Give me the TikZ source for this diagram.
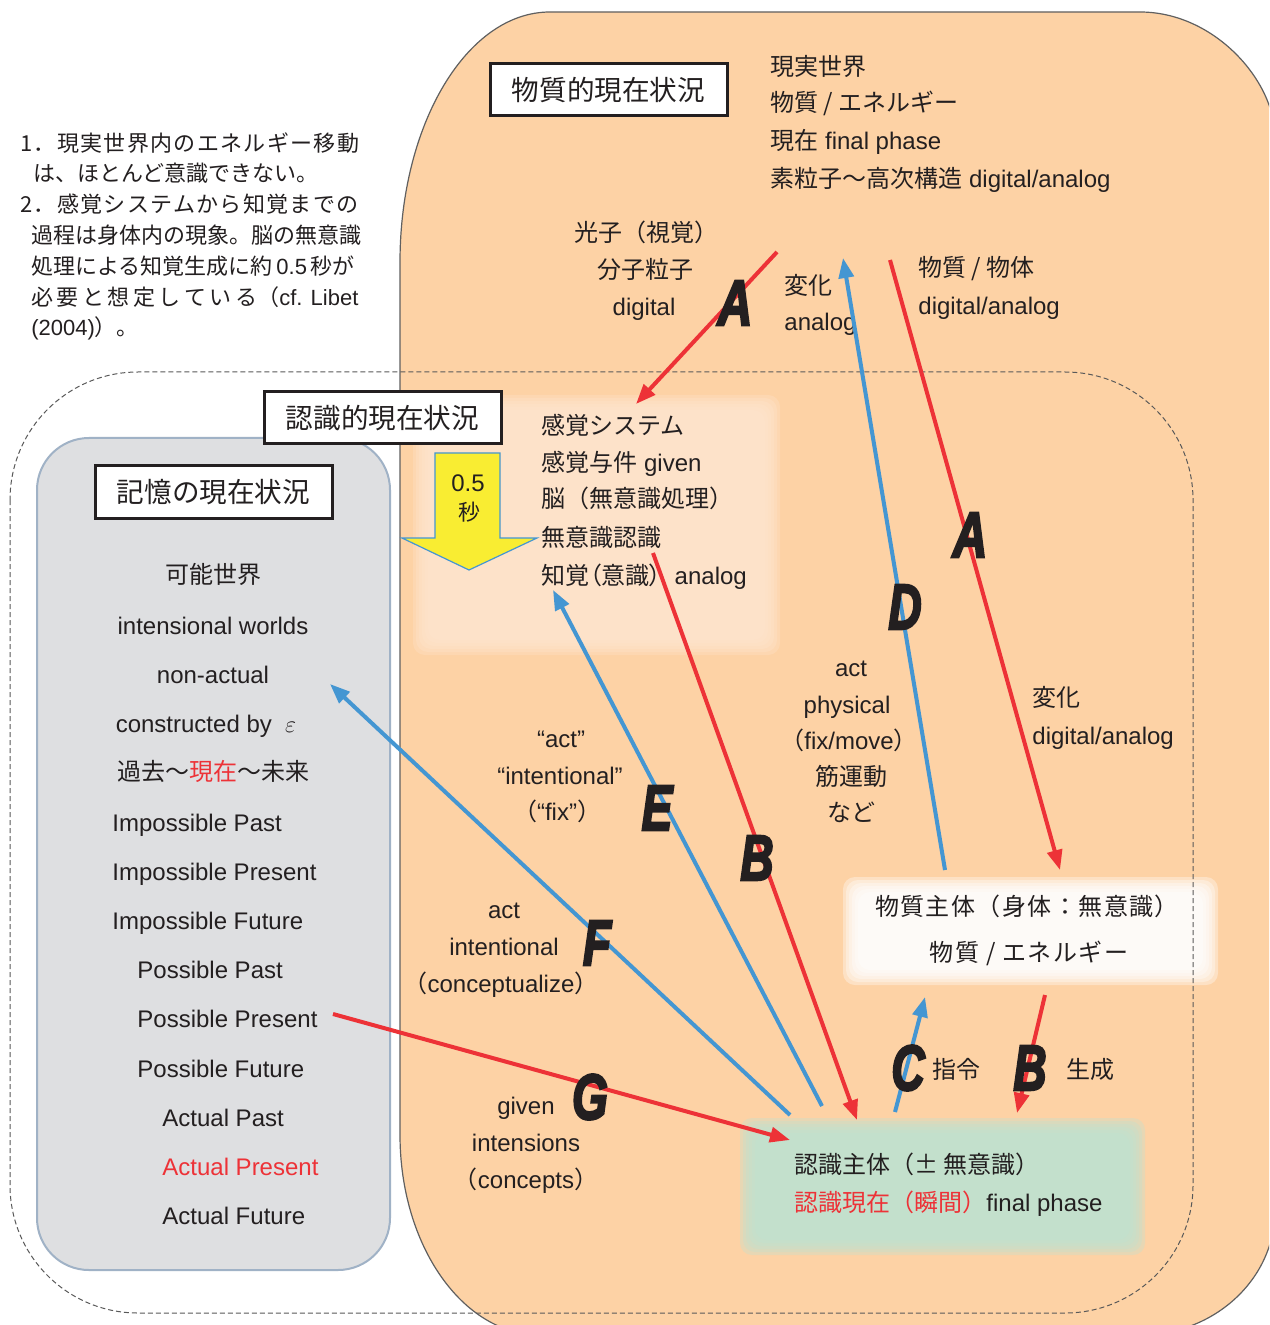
\documentclass[tikz,border=0pt]{standalone}
\usepackage{fontspec}
\usepackage{graphicx}
\setmainfont{Liberation Sans}
\newfontfamily\jp{Noto Sans CJK JP}
\newfontfamily\jpp[RawFeature=+palt]{Noto Sans CJK JP}
\newfontfamily\jpls[LetterSpace=6]{Noto Sans CJK JP}
\newfontfamily\jpnote[LetterSpace=6]{Noto Sans CJK JP}
\newfontfamily\heavy[FakeBold=4]{Liberation Sans Bold Italic}
\newcommand\JP[1]{{\jp #1}}
\usetikzlibrary{arrows.meta}
\definecolor{orangebg}{RGB}{253,210,165}
\definecolor{peachlt}{RGB}{253,229,207}
\definecolor{greenbg}{RGB}{192,226,208}
\definecolor{greybg}{RGB}{222,223,225}
\definecolor{greyedge}{RGB}{160,178,198}
\definecolor{rd}{RGB}{237,50,55}
\definecolor{bl}{RGB}{68,150,210}
\definecolor{ink}{RGB}{35,31,32}
\definecolor{yel}{RGB}{249,237,50}
\begin{document}
\begin{tikzpicture}[x=0.5pt,y=-0.5pt,
  txt/.style={font=\fontsize{12}{14}\selectfont, text=ink, inner sep=0pt, text height=10pt, text depth=2pt},
  lt/.style={txt, anchor=west},
  note/.style={font=\fontsize{11}{13}\selectfont, text=ink, inner sep=0pt, anchor=west, text height=9pt, text depth=2pt},
  title/.style={draw=ink, line width=1.5pt, fill=white, minimum width=118.5pt, minimum height=26pt, inner sep=0pt, font=\fontsize{13.8}{15}\jp\selectfont, text=ink},
  big/.style={font=\fontsize{32}{32}\heavy\selectfont, text=ink, inner sep=0pt},
  arr/.style={line width=2pt, -{Triangle[length=10pt,width=7.5pt]}},
  redarr/.style={arr, draw=rd},
  bluearr/.style={arr, draw=bl}]
\useasboundingbox (0,0) rectangle (1269,1325);
\clip (0,0) rectangle (1269,1325);
\fill[white] (0,0) rectangle (1269,1325);
% physical present situation (orange area)
\path[fill=orangebg, draw=gray!75!black, line width=0.6pt]
  (400,262) .. controls (400,124) and (467,12) .. (550,12)
  -- (1140,12) .. controls (1214.5,12) and (1275,81) .. (1275,137)
  -- (1275,1210) .. controls (1275,1279) and (1214.5,1335) .. (1140,1335)
  -- (540,1335) .. controls (462.7,1335) and (400,1245.4) .. (400,1135) -- cycle;
% soft regions
\foreach \k in {0,3,...,15} \fill[peachlt, fill opacity=0.3, rounded corners=6pt] (413+\k,395+\k) rectangle (780-\k,655-\k);
\foreach \k in {0,3,...,15} \fill[white, fill opacity=0.35, rounded corners=6pt] (843+\k,877+\k) rectangle (1218-\k,985-\k);
\foreach \k in {0,3,...,15} \fill[greenbg, fill opacity=0.35, rounded corners=6pt] (740+\k,1118+\k) rectangle (1145-\k,1255-\k);
% memory box
\draw[fill=greybg, draw=greyedge, line width=1pt, rounded corners=26pt] (37,438) rectangle (390,1270);
% cognitive present (dashed)
\draw[dash pattern=on 2.5pt off 1.5pt, draw=gray!70!black, line width=0.5pt, rounded corners=64pt] (10,372) rectangle (1193,1313);
% titles
\node[title] (tPhys) at (608.5,90) {物質的現在状況};
\node[title] (tCog) at (382.5,418) {認識的現在状況};
\node[title] (tMem) at (213.5,492) {記憶の現在状況};
% yellow arrow
\draw[fill=yel, draw=bl, line width=0.6pt] (435,453) -- (500,453) -- (500,538) -- (537,538) -- (469,570) -- (402,538) -- (435,538) -- cycle;
\node[txt, font=\fontsize{12}{13}\selectfont] (y1) at (468,484) {0.5};
\node[txt, font=\fontsize{11}{13}\jp\selectfont] (y2) at (469,512) {秒};
% notes
\node[note] (n1) at (20,145) {{\jpnote 1．現実世界内のエネルギー移動}};
\node[note] (n2) at (33,175) {\JP{は、ほとんど意識できない。}};
\node[note] (n3) at (20,206) {{\jpnote 2．感覚システムから知覚までの}};
\node[note] (n4) at (31,237) {\JP{過程は身体内の現象。脳の無意識}};
\node[note] (n5) at (31,268) {\JP{処理による知覚生成に約}\,0.5\,\JP{秒が}};
\node[note] (n6) at (31,299) {\makebox[163.5pt][s]{\JP{必}\hfill\JP{要}\hfill\JP{と}\hfill\JP{想}\hfill\JP{定}\hfill\JP{し}\hfill\JP{て}\hfill\JP{い}\hfill\JP{る（}cf. Libet}};
\node[note] (n7) at (31,329) {(2004)\JP{）。}};
% top right list
\node[lt] (p1) at (770,68) {\JP{現実世界}};
\node[lt] (p2) at (770,104) {\JP{物質 / エネルギー}};
\node[lt] (p3) at (770,142) {\JP{現在} final phase};
\node[lt] (p4) at (770,180) {\JP{素粒子～高次構造} digital/analog};
% upper labels
\node[txt] (q1) at (646,234) {\JP{光子（視覚）}};
\node[txt] (q2) at (645,271) {\JP{分子粒子}};
\node[txt] (q3) at (644,308) {digital};
\node[lt] (q4) at (784,287) {\JP{変化}};
\node[lt] (q5) at (784,323) {analog};
\node[lt] (q6) at (918,269) {\JP{物質 / 物体}};
\node[lt] (q7) at (918,307) {digital/analog};
% sensory list
\node[lt] (s1) at (541,427) {\JP{感覚システム}};
\node[lt] (s2) at (541,464) {\JP{感覚与件} given};
\node[lt] (s3) at (541,500) {\JP{脳（無意識処理）}};
\node[lt] (s4) at (541,538) {\JP{無意識認識}};
\node[lt] (s5) at (541,576) {{\jpp 知覚（意識）}\ \ analog};
% memory list
\node[txt] (m1) at (213,575) {\JP{可能世界}};
\node[txt] (m2) at (213,626) {intensional worlds};
\node[txt] (m3) at (213,675) {non-actual};
\node[txt] (m4) at (206,724) {constructed by\ \ $\varepsilon$};
\node[txt] (m5) at (213,772) {\JP{過去～\textcolor{rd}{現在}～未来}};
\node[lt] (m6) at (112,823) {Impossible Past};
\node[lt] (m7) at (112,872) {Impossible Present};
\node[lt] (m8) at (112,921) {Impossible Future};
\node[lt] (m9) at (137,970) {Possible Past};
\node[lt] (m10) at (137,1019) {Possible Present};
\node[lt] (m11) at (137,1069) {Possible Future};
\node[lt] (m12) at (162,1118) {Actual Past};
\node[lt, text=rd] (m13) at (162,1167) {Actual Present};
\node[lt] (m14) at (162,1216) {Actual Future};
% middle labels
\node[txt] (e1) at (561,739) {“act”};
\node[txt] (e2) at (560,776) {“intentional”};
\node[txt] (e3) at (557,812) {\JP{（}“fix”\JP{）}};
\node[txt] (d1) at (851,668) {act};
\node[txt] (d2) at (847,705) {physical};
\node[txt] (d3) at (849,741) {\JP{（}fix/move\JP{）}};
\node[txt] (d4) at (851,777) {\JP{筋運動}};
\node[txt] (d5) at (851,813) {\JP{など}};
\node[lt] (a1) at (1032,698) {\JP{変化}};
\node[lt] (a2) at (1032,736) {digital/analog};
\node[txt] (f1) at (504,910) {act};
\node[txt] (f2) at (504,947) {intentional};
\node[txt] (f3) at (501,984) {\JP{（}conceptualize\JP{）}};
\node[txt] (g1) at (526,1106) {given};
\node[txt] (g2) at (526,1143) {intensions};
\node[txt] (g3) at (526,1180) {\JP{（}concepts\JP{）}};
\node[lt] (c1) at (932,1070) {\JP{指令}};
\node[lt] (b1) at (1066,1070) {\JP{生成}};
% body box
\node[txt, font=\fontsize{12}{14}\jpls\selectfont] (w1) at (1027,907) {物質主体（身体：無意識）};
\node[txt, font=\fontsize{12}{14}\jpls\selectfont] (w2) at (1029,953) {物質 / エネルギー};
% cognitive subject box
\node[lt] (k1) at (794,1165) {\JP{認識主体（± 無意識）}};
\node[lt] (k2) at (794,1203) {\textcolor{rd}{\JP{認識現在（瞬間）}}final phase};
% arrow end points
\coordinate (A1s) at (777,252); \coordinate (A1e) at (636,404);
\coordinate (Ds) at (945,870);  \coordinate (De) at (843,258);
\coordinate (A2s) at (890,260); \coordinate (A2e) at (1060,870);
\coordinate (B1s) at (653,553); \coordinate (B1e) at (857,1120);
\coordinate (Es) at (822,1106); \coordinate (Ee) at (553,590);
\coordinate (Fs) at (790,1115); \coordinate (Fe) at (330,684);
\coordinate (Gs) at (333,1014); \coordinate (Ge) at (790,1140);
\coordinate (Cs) at (895,1112); \coordinate (Ce) at (925,997);
\coordinate (B2s) at (1045,995); \coordinate (B2e) at (1017,1113);
\draw[redarr] (A1s) -- (A1e);
\draw[bluearr] (Ds) -- (De);
\draw[redarr] (A2s) -- (A2e);
\draw[redarr] (B1s) -- (B1e);
\draw[bluearr] (Es) -- (Ee);
\draw[bluearr] (Fs) -- (Fe);
\draw[redarr] (Gs) -- (Ge);
\draw[bluearr] (Cs) -- (Ce);
\draw[redarr] (B2s) -- (B2e);
% big letters
\node[big] (LA1) at (735,303) {\scalebox{0.75}[1]{A}};
\node[big] (LA2) at (970,535) {\scalebox{0.75}[1]{A}};
\node[big] (LD) at (905,607) {\scalebox{0.72}[1]{D}};
\node[big] (LE) at (657,808) {\scalebox{0.72}[1]{E}};
\node[big] (LB1) at (757,858) {\scalebox{0.72}[1]{B}};
\node[big] (LF) at (597,943) {\scalebox{0.72}[1]{F}};
\node[big] (LC) at (908,1068) {\scalebox{0.72}[1]{C}};
\node[big] (LB2) at (1030,1068) {\scalebox{0.72}[1]{B}};
\node[big] (LG) at (590,1097) {\scalebox{0.72}[1]{G}};
\end{tikzpicture}
\end{document}
